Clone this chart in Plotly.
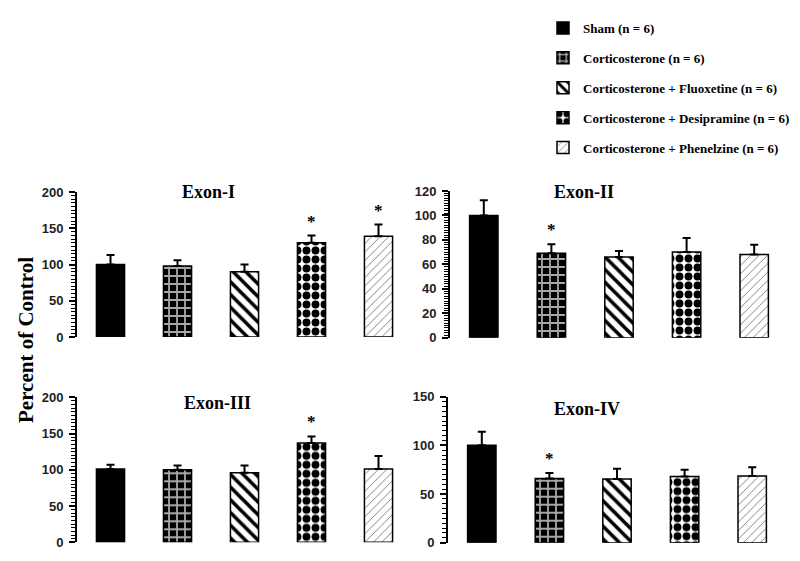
import plotly.graph_objects as go

groups = [
    "Sham (n = 6)",
    "Corticosterone (n = 6)",
    "Corticosterone + Fluoxetine (n = 6)",
    "Corticosterone + Desipramine (n = 6)",
    "Corticosterone + Phenelzine (n = 6)",
]
panel_titles = ["Exon-I", "Exon-II", "Exon-III", "Exon-IV"]

exon1_mean = [100, 98, 90, 130, 139]
exon1_sem = [13, 8, 10, 10, 16]
exon2_mean = [100, 69, 66, 70, 68]
exon2_sem = [12.5, 7.5, 5, 11.5, 8]
exon3_mean = [101, 100, 96, 137, 101]
exon3_sem = [6, 6, 10, 9, 18]
exon4_mean = [100, 66, 65.5, 68, 68.5]
exon4_sem = [14, 5.5, 10.5, 7, 9]

# which bars carry a significance star, per panel
exon1_star = [False, False, False, True, True]
exon2_star = [False, True, False, False, False]
exon3_star = [False, False, False, True, False]
exon4_star = [False, True, False, False, False]

y_max = [200, 120, 200, 150]
y_dtick = [50, 20, 50, 50]
y_minor = [5, 2, 5, 5]

means = [exon1_mean, exon2_mean, exon3_mean, exon4_mean]
sems = [exon1_sem, exon2_sem, exon3_sem, exon4_sem]
stars = [exon1_star, exon2_star, exon3_star, exon4_star]

# the page body adds an 8px margin, so the figure is a bit smaller than the window
OFF = 8
W, H = 800 - OFF, 561 - OFF


def fx(rx):
    return (rx - OFF) / W


def fy(ry):
    return 1 - (ry - OFF) / H


# domains measured in pixels off the reference
x_domains = [[fx(77), fx(412)], [fx(450), fx(788)], [fx(77), fx(412)], [fx(448), fx(786)]]
y_domains = [[fy(337), fy(192)], [fy(337.7), fy(191)], [fy(542.3), fy(397.3)], [fy(542.7), fy(396.7)]]
title_pos = [(208, 192), (584, 192), (217, 403), (587, 409)]

patterns = [
    dict(shape=""),
    dict(shape="+", fgcolor="#a8a8a8", bgcolor="black", size=8, solidity=0.4, fillmode="replace"),
    dict(shape="\\", fgcolor="black", bgcolor="white", size=9, solidity=0.4, fillmode="replace"),
    dict(shape=".", fgcolor="black", bgcolor="white", size=9, solidity=0.6, fillmode="replace"),
    dict(shape="/", fgcolor="#555", bgcolor="white", size=6, solidity=0.12, fillmode="replace"),
]
bar_colors = ["black", "white", "white", "white", "white"]

fig = go.Figure()
annotations = []
serif = "Liberation Serif, Times New Roman, serif"
sans = "Liberation Sans, Arial, sans-serif"

for p in range(4):
    xa = "x" if p == 0 else f"x{p + 1}"
    ya = "y" if p == 0 else f"y{p + 1}"
    for g in range(5):
        fig.add_trace(go.Bar(
            x=[g], y=[means[p][g]],
            xaxis=xa, yaxis=ya,
            name=f"<b>{groups[g]}</b>",
            legendgroup=f"g{g}",
            showlegend=(p == 0),
            width=0.42,
            marker=dict(color=bar_colors[g], pattern=patterns[g],
                        line=dict(color="black", width=1.5)),
            error_y=dict(type="data", array=[sems[p][g]], arrayminus=[0],
                         symmetric=False, color="black", thickness=2, width=4),
        ))
        if stars[p][g]:
            annotations.append(dict(
                x=g, y=means[p][g] + sems[p][g], xref=xa, yref=ya,
                text="<b>*</b>", showarrow=False, yanchor="bottom", yshift=3,
                font=dict(family=serif, size=17, color="black"),
            ))
    tx, ty = title_pos[p]
    annotations.append(dict(
        x=fx(tx), y=fy(ty), xref="paper", yref="paper",
        text=f"<b>{panel_titles[p]}</b>", showarrow=False,
        xanchor="center", yanchor="middle",
        font=dict(family=serif, size=18, color="black"),
    ))

annotations.append(dict(
    x=fx(26), y=fy(340), xref="paper", yref="paper",
    text="<b>Percent of Control</b>", showarrow=False, textangle=-90,
    xanchor="center", yanchor="middle",
    font=dict(family=serif, size=21, color="black"),
))

layout = dict(
    width=W, height=H,
    margin=dict(l=0, r=0, t=0, b=0),
    paper_bgcolor="white", plot_bgcolor="white",
    barmode="overlay",
    showlegend=True,
    legend=dict(
        x=fx(543), y=fy(13), xanchor="left", yanchor="top",
        traceorder="grouped", tracegroupgap=10,
        font=dict(family=serif, size=13, color="black"),
        bgcolor="rgba(0,0,0,0)",
    ),
    annotations=annotations,
)

for p in range(4):
    xkey = "xaxis" if p == 0 else f"xaxis{p + 1}"
    ykey = "yaxis" if p == 0 else f"yaxis{p + 1}"
    ya = "y" if p == 0 else f"y{p + 1}"
    xa = "x" if p == 0 else f"x{p + 1}"
    layout[xkey] = dict(
        domain=x_domains[p], anchor=ya, range=[-0.5, 4.5],
        visible=False, fixedrange=True,
    )
    layout[ykey] = dict(
        domain=y_domains[p], anchor=xa, range=[0, y_max[p]],
        tickmode="linear", dtick=y_dtick[p], tick0=0,
        showline=True, linecolor="black", linewidth=2,
        ticks="outside", ticklen=6, tickwidth=1.5, tickcolor="black",
        minor=dict(dtick=y_minor[p], ticks="outside", ticklen=4,
                   tickwidth=1.2, tickcolor="black"),
        showgrid=False, zeroline=False,
        tickfont=dict(family=sans, size=13, color="#222", weight="bold"),
        ticklabelstandoff=3,
        automargin=False,
    )

fig.update_layout(**layout)
fig.write_html("out.html")
